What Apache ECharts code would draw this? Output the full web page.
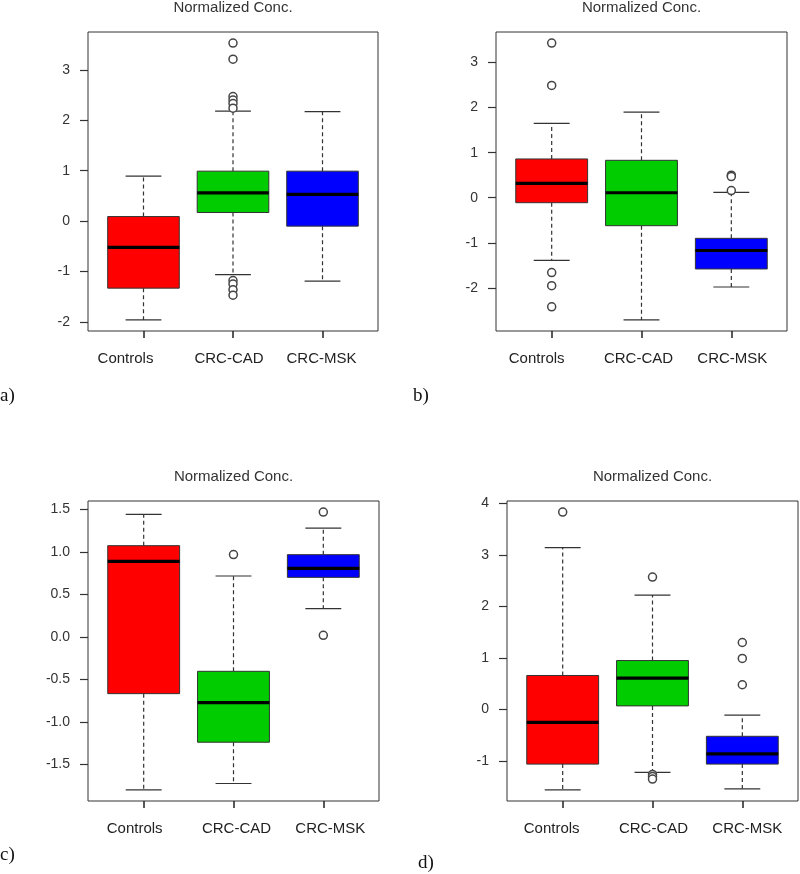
<!DOCTYPE html>
<html>
<head>
<meta charset="utf-8">
<script src="https://cdn.jsdelivr.net/npm/echarts@6/dist/echarts.min.js"></script>
<style>
html,body{margin:0;padding:0;background:#fff;}
#chart{width:800px;height:874px;}
</style>
</head>
<body>
<div id="chart"></div>
<script>
// ---- data ----
const categories = ['Controls', 'CRC-CAD', 'CRC-MSK'];
const panelTitle = 'Normalized Conc.';
const panelLetters = ['a)', 'b)', 'c)', 'd)'];

// each box: [lower whisker, Q1, median, Q3, upper whisker]
const aBoxes = [[-1.96, -1.33, -0.52, 0.09, 0.89], [-1.06, 0.17, 0.56, 0.99, 2.18], [-1.19, -0.10, 0.53, 0.99, 2.17]];
const aOutliers = [[2, 3.53], [2, 3.21], [2, 2.47], [2, 2.40], [2, 2.33], [2, 2.24], [2, -1.18], [2, -1.25], [2, -1.36], [2, -1.47]];
const aTicks = [-2, -1, 0, 1, 2, 3];

const bBoxes = [[-1.39, -0.11, 0.32, 0.86, 1.65], [-2.71, -0.62, 0.11, 0.83, 1.90], [-1.98, -1.58, -1.17, -0.90, 0.12]];
const bOutliers = [[1, 3.43], [1, 2.49], [1, -1.66], [1, -1.95], [1, -2.42], [3, 0.50], [3, 0.47], [3, 0.16]];
const bTicks = [-2, -1, 0, 1, 2, 3];

const cBoxes = [[-1.80, -0.667, 0.89, 1.075, 1.443], [-1.725, -1.239, -0.773, -0.404, 0.718], [0.333, 0.702, 0.808, 0.969, 1.282]];
const cOutliers = [[2, 0.97], [3, 1.47], [3, 0.02]];
const cTicks = [-1.5, -1.0, -0.5, 0.0, 0.5, 1.0, 1.5];

const dBoxes = [[-1.56, -1.06, -0.25, 0.66, 3.14], [-1.22, 0.07, 0.61, 0.95, 2.22], [-1.54, -1.06, -0.86, -0.52, -0.11]];
const dOutliers = [[1, 3.83], [2, 2.57], [2, -1.26], [2, -1.30], [2, -1.35], [3, 1.30], [3, 0.99], [3, 0.48]];
const dTicks = [-1, 0, 1, 2, 3, 4];

const categoryPositions = [1, 2, 3];

// ---- styling / layout ----
const boxColors = ['#ff0000', '#00cc00', '#0000ff'];
const panels = [
  {boxes: aBoxes, outliers: aOutliers, ticks: aTicks, dec: 0, grid: {left: 88, top: 32, width: 290, height: 299}, labelShift: [-18, -4, -1], letter: {x: 0, y: 396}},
  {boxes: bBoxes, outliers: bOutliers, ticks: bTicks, dec: 0, grid: {left: 496, top: 32, width: 291, height: 299}, labelShift: [-15, -3, 1], letter: {x: 413, y: 396}},
  {boxes: cBoxes, outliers: cOutliers, ticks: cTicks, dec: 1, grid: {left: 88, top: 501, width: 291, height: 300}, labelShift: [-9, 3, 7], letter: {x: 0, y: 855}},
  {boxes: dBoxes, outliers: dOutliers, ticks: dTicks, dec: 0, grid: {left: 507, top: 501, width: 291, height: 300}, labelShift: [-11, 1, 5], letter: {x: 418, y: 863}}
];

const sans = '"Liberation Sans", Arial, sans-serif';

function renderBox(params, api) {
  const x = api.value(0);
  const ys = [1, 2, 3, 4, 5].map(d => api.coord([x, api.value(d)])[1]);
  const cx = api.coord([x, api.value(3)])[0];
  const w = api.size([0.8, 0])[0];
  const hw = w / 2, cap = w / 4;
  const [pMin, pQ1, pMed, pQ3, pMax] = ys;
  const dash = {stroke: '#333', lineWidth: 1.2, lineDash: [4, 3]};
  const solid = {stroke: '#333', lineWidth: 1.2};
  return {
    type: 'group',
    children: [
      {type: 'line', shape: {x1: cx, y1: pQ3, x2: cx, y2: pMax}, style: dash},
      {type: 'line', shape: {x1: cx, y1: pQ1, x2: cx, y2: pMin}, style: dash},
      {type: 'line', shape: {x1: cx - cap, y1: pMax, x2: cx + cap, y2: pMax}, style: solid},
      {type: 'line', shape: {x1: cx - cap, y1: pMin, x2: cx + cap, y2: pMin}, style: solid},
      {type: 'rect', shape: {x: cx - hw, y: pQ3, width: w, height: pQ1 - pQ3}, style: {fill: boxColors[params.dataIndex], stroke: '#333', lineWidth: 1}},
      {type: 'line', shape: {x1: cx - hw, y1: pMed, x2: cx + hw, y2: pMed}, style: {stroke: '#000', lineWidth: 3.2}}
    ]
  };
}

const grid = [], xAxis = [], yAxis = [], series = [], graphic = [];
panels.forEach((p, k) => {
  const vals = [];
  p.boxes.forEach(b => vals.push(...b));
  p.outliers.forEach(o => vals.push(o[1]));
  const lo = Math.min(...vals), hi = Math.max(...vals);
  const pad = (hi - lo) * 0.04;

  grid.push(Object.assign({show: true, borderColor: '#333', borderWidth: 1, backgroundColor: 'transparent'}, p.grid));

  const rich = {};
  p.labelShift.forEach((s, i) => {
    rich['s' + i] = {
      fontSize: 15, fontFamily: sans, color: '#222',
      padding: s < 0 ? [0, -2 * s, 0, 0] : [0, 0, 0, 2 * s]
    };
  });

  xAxis.push({
    type: 'value', gridIndex: k, min: 0.38, max: 3.62, position: 'bottom',
    axisLine: {show: false, onZero: false},
    splitLine: {show: false},
    axisTick: {show: true, length: 7, customValues: categoryPositions, lineStyle: {color: '#222', width: 1.5}},
    axisLabel: {
      customValues: categoryPositions, margin: 20, fontSize: 15, fontFamily: sans, color: '#222',
      formatter: v => { const i = Math.round(v) - 1; return '{s' + i + '|' + categories[i] + '}'; },
      rich: rich
    }
  });
  yAxis.push({
    type: 'value', gridIndex: k, min: lo - pad, max: hi + pad, position: 'left',
    axisLine: {show: false, onZero: false}, splitLine: {show: false},
    axisTick: {show: true, length: 8, customValues: p.ticks, lineStyle: {color: '#333', width: 1.2}},
    axisLabel: {
      customValues: p.ticks, margin: 18, fontSize: 14, fontFamily: sans, color: '#333',
      formatter: v => Number(v).toFixed(p.dec)
    }
  });

  series.push({
    type: 'custom', xAxisIndex: k, yAxisIndex: k,
    renderItem: renderBox, clip: false,
    encode: {x: 0, y: [1, 2, 3, 4, 5]},
    data: p.boxes.map((b, i) => [categoryPositions[i]].concat(b)),
    silent: true, z: 2
  });
  series.push({
    type: 'scatter', xAxisIndex: k, yAxisIndex: k,
    data: p.outliers,
    symbol: 'circle', symbolSize: 8,
    itemStyle: {color: '#fff', borderColor: '#444', borderWidth: 1.5, opacity: 1},
    silent: true, z: 3
  });

  graphic.push({
    type: 'text', x: p.grid.left + p.grid.width / 2, y: p.grid.top - 24,
    style: {text: panelTitle, align: 'center', verticalAlign: 'middle', fontSize: 15, fontFamily: sans, fill: '#333'}
  });
  graphic.push({
    type: 'text', x: p.letter.x, y: p.letter.y,
    style: {text: panelLetters[k], align: 'left', verticalAlign: 'middle', fontSize: 19, fontFamily: '"Liberation Serif", "Times New Roman", serif', fill: '#111'}
  });
});

const chart = echarts.init(document.getElementById('chart'), null, {renderer: 'canvas'});
chart.setOption({
  animation: false,
  backgroundColor: '#fff',
  grid, xAxis, yAxis, series, graphic
});
</script>
</body>
</html>
